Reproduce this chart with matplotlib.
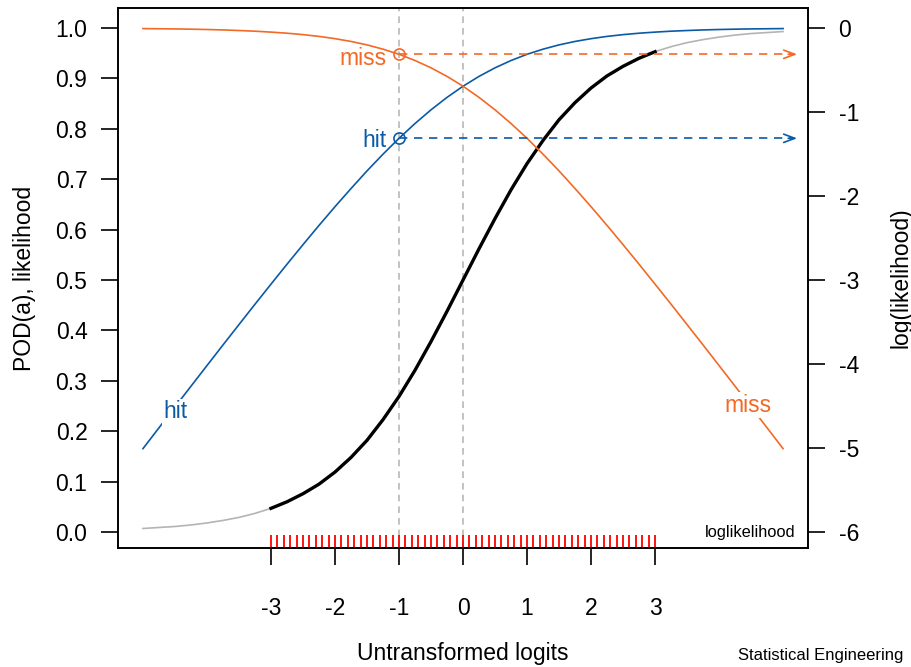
import matplotlib
matplotlib.use("Agg")
import matplotlib.pyplot as plt
import numpy as np

plt.rcParams['font.family'] = ['Liberation Sans', 'DejaVu Sans']
plt.rcParams['axes.unicode_minus'] = False

# logit grid and POD(a) curve
logits = [-5.0, -4.75, -4.5, -4.25, -4.0, -3.75, -3.5, -3.25, -3.0, -2.75,
          -2.5, -2.25, -2.0, -1.75, -1.5, -1.25, -1.0, -0.75, -0.5, -0.25,
          0.0, 0.25, 0.5, 0.75, 1.0, 1.25, 1.5, 1.75, 2.0, 2.25,
          2.5, 2.75, 3.0, 3.25, 3.5, 3.75, 4.0, 4.25, 4.5, 4.75, 5.0]
pod = [0.007, 0.009, 0.011, 0.014, 0.018, 0.023, 0.029, 0.037, 0.047, 0.060,
       0.076, 0.095, 0.119, 0.148, 0.182, 0.223, 0.269, 0.321, 0.378, 0.438,
       0.500, 0.562, 0.622, 0.679, 0.731, 0.777, 0.818, 0.852, 0.881, 0.905,
       0.924, 0.940, 0.953, 0.963, 0.971, 0.977, 0.982, 0.986, 0.989, 0.991, 0.993]

# log-likelihood of a hit and of a miss
loglik_hit = [-5.007, -4.759, -4.511, -4.264, -4.018, -3.773, -3.530, -3.288, -3.049, -2.812,
              -2.579, -2.350, -2.127, -1.911, -1.701, -1.502, -1.313, -1.137, -0.974, -0.826,
              -0.693, -0.576, -0.474, -0.387, -0.313, -0.252, -0.201, -0.160, -0.127, -0.100,
              -0.079, -0.062, -0.049, -0.038, -0.030, -0.023, -0.018, -0.014, -0.011, -0.009, -0.007]
loglik_miss = [-0.007, -0.009, -0.011, -0.014, -0.018, -0.023, -0.030, -0.038, -0.049, -0.062,
               -0.079, -0.100, -0.127, -0.160, -0.201, -0.252, -0.313, -0.387, -0.474, -0.576,
               -0.693, -0.826, -0.974, -1.137, -1.313, -1.502, -1.701, -1.911, -2.127, -2.350,
               -2.579, -2.812, -3.049, -3.288, -3.530, -3.773, -4.018, -4.264, -4.511, -4.759, -5.007]

# observed crack sizes (rug) and the chosen point
rug_logits = list(np.round(np.arange(-3.0, 3.01, 0.1), 1))
x_point = -1.0
hit_at_point = -1.313
miss_at_point = -0.313

xticks = [-3, -2, -1, 0, 1, 2, 3]
left_ticks = [0.0, 0.1, 0.2, 0.3, 0.4, 0.5, 0.6, 0.7, 0.8, 0.9, 1.0]
right_ticks = [0, -1, -2, -3, -4, -5, -6]

BLUE = '#0b5aa6'
ORANGE = '#f26a25'
FS = 16.5

fig = plt.figure(figsize=(9.12, 6.67), dpi=100)
ax = fig.add_axes([0.1294, 0.1784, 0.7566, 0.8096])
ax2 = ax.twinx()

x = np.array(logits)
p = np.array(pod)
inner = np.abs(x) <= 3

ax.plot(x, p, color='#b4b4b4', lw=1.2, zorder=2)
ax.plot(x[inner], p[inner], color='black', lw=2.4, zorder=4)

for xv in [-1, 0]:
    ax.axvline(xv, color='#b8b8b8', lw=1.2, ls=(0, (4, 3)), zorder=1)

ax.vlines(rug_logits, -0.0317, -0.005, color='#ff0000', lw=1.3, zorder=3)

ax.set_xlim(-5.39, 5.39)
ax.set_ylim(-0.0317, 1.0397)
ax.set_xticks(xticks)
ax.set_xticklabels([str(t) for t in xticks])
ax.set_yticks(left_ticks)
ax.set_yticklabels([f'{t:.1f}' for t in left_ticks])
ax.tick_params(axis='x', length=12, width=1.2, pad=23, labelsize=FS)
ax.tick_params(axis='y', length=12, width=1.2, pad=10, labelsize=FS)
ax.set_xlabel('Untransformed logits', fontsize=FS, labelpad=16)
ax.set_ylabel('POD(a), likelihood', fontsize=FS, labelpad=14)

# log-likelihood curves on the right axis
ax2.plot(x, loglik_hit, color=BLUE, lw=1.2, zorder=3)
ax2.plot(x, loglik_miss, color=ORANGE, lw=1.2, zorder=3)

for yv, col in [(hit_at_point, BLUE), (miss_at_point, ORANGE)]:
    ax2.plot([x_point, 5.12], [yv, yv], color=col, lw=1.2, ls=(0, (5, 4)), zorder=3)
    ax2.annotate('', xy=(5.22, yv), xytext=(5.08, yv),
                 arrowprops=dict(arrowstyle='->,head_length=0.8,head_width=0.3',
                                 color=col, lw=1.2, shrinkA=0, shrinkB=0))
    ax2.plot([x_point], [yv], 'o', ms=8, mfc='none', mec=col, mew=1.2, zorder=5)

ax2.text(-1.2, hit_at_point - 0.03, 'hit', color=BLUE, fontsize=FS, ha='right', va='center')
ax2.text(-1.2, miss_at_point - 0.05, 'miss', color=ORANGE, fontsize=FS, ha='right', va='center')
ax2.text(-4.5, -4.57, 'hit', color=BLUE, fontsize=FS, ha='center', va='center',
         bbox=dict(facecolor='white', edgecolor='none', pad=1.0), zorder=6)
ax2.text(4.45, -4.49, 'miss', color=ORANGE, fontsize=FS, ha='center', va='center',
         bbox=dict(facecolor='white', edgecolor='none', pad=1.0), zorder=6)

ax2.set_ylim(-6.19, 0.238)
ax2.set_yticks(right_ticks)
ax2.set_yticklabels([str(t) for t in right_ticks])
ax2.tick_params(axis='y', length=12, width=1.2, pad=10, labelsize=FS)
ax2.set_ylabel('log(likelihood)', fontsize=FS, labelpad=22)

ax.text(5.2, -6.0, 'loglikelihood', transform=ax2.transData, fontsize=11.8,
        ha='right', va='center')
fig.text(0.990, 0.017, 'Statistical Engineering', fontsize=12, ha='right', va='center')

for a in (ax, ax2):
    for s in a.spines.values():
        s.set_linewidth(1.2)

fig.savefig('out.png', dpi=100)
